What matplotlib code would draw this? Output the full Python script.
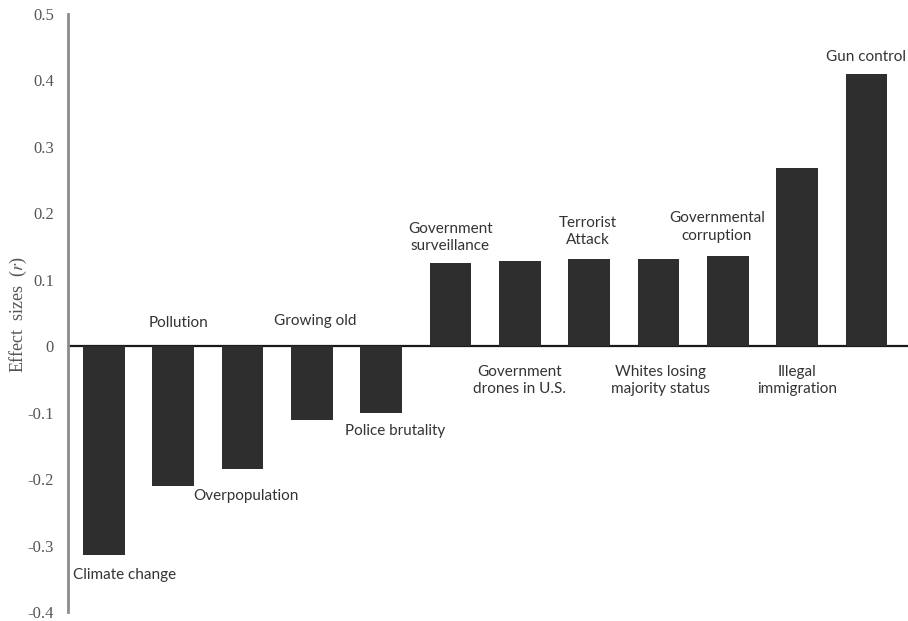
import matplotlib
matplotlib.use("Agg")
import matplotlib.pyplot as plt

plt.rcParams["mathtext.fontset"] = "stix"

categories = ["Climate change", "Pollution", "Overpopulation", "Growing old",
              "Police brutality", "Government\nsurveillance", "Government\ndrones in U.S.",
              "Terrorist\nAttack", "Whites losing\nmajority status", "Governmental\ncorruption",
              "Illegal\nimmigration", "Gun control"]
values = [-0.314, -0.210, -0.185, -0.111, -0.101, 0.126, 0.128, 0.131, 0.131, 0.136, 0.268, 0.410]
yticks = [-0.4, -0.3, -0.2, -0.1, 0, 0.1, 0.2, 0.3, 0.4, 0.5]
ytick_labels = ["-0.4", "-0.3", "-0.2", "-0.1", "0", "0.1", "0.2", "0.3", "0.4", "0.5"]

# label layout: anchor ('bar' end or 'zero' line), offset in pixels (dx right, dy up)
label_anchor = ["bar", "zero", "bar", "zero", "bar", "bar", "zero", "bar", "zero", "bar", "zero", "bar"]
label_dx = [21, 5, 4, 4, 14, 0, 0, -1, 2, -11, 0, 0]
label_dy = [-20, 23, -27, 25, -18, 25, -34, 28, -34, 29, -34, 17]

W, H = 908, 621
fig = plt.figure(figsize=(W / 100, H / 100), dpi=100)
ax = fig.add_axes([68 / W, 9 / H, (908 - 68) / W, 598 / H])

x = list(range(len(values)))
ax.bar(x, values, width=0.6, color="#2e2e2e", zorder=3)
ax.axhline(0, color="#1a1a1a", lw=1.6, zorder=2)

ax.set_ylim(-0.4, 0.5)
ax.set_xlim(-0.515, 11.6)
for s in ["top", "right", "bottom"]:
    ax.spines[s].set_visible(False)
ax.spines["left"].set_color("#8c8c8c")
ax.spines["left"].set_linewidth(2)
ax.set_xticks([])
ax.set_yticks(yticks)
ax.set_yticklabels(ytick_labels, fontfamily="Liberation Serif", fontsize=12, color="#555555")
ax.tick_params(axis="y", length=0, pad=10)
ax.set_ylabel("Effect  sizes  ($\\mathit{r}$)", fontfamily="Liberation Serif", fontsize=13,
              color="#555555")
ax.yaxis.set_label_coords(-39 / (908 - 68), 0.497)

pt = 0.72
for i, (lab, v) in enumerate(zip(categories, values)):
    ay = v if label_anchor[i] == "bar" else 0
    ax.annotate(lab, xy=(i, ay), xytext=(label_dx[i] * pt, label_dy[i] * pt),
                textcoords="offset points", ha="center", va="center",
                fontfamily="Lato", fontsize=11, color="#333333", linespacing=1.3,
                zorder=4)

fig.savefig("out.png", dpi=100)
